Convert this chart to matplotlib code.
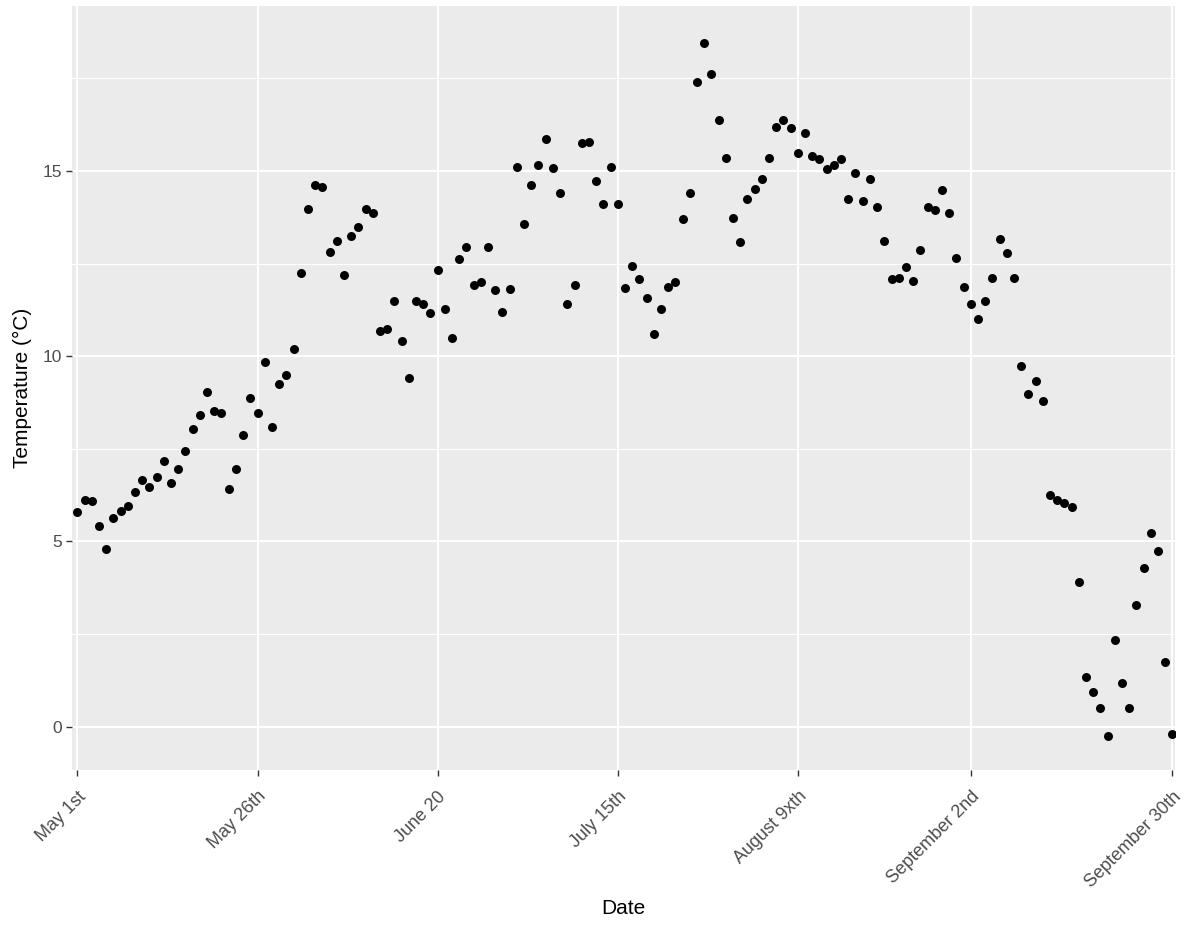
import numpy as np
import matplotlib
matplotlib.use('Agg')
import matplotlib.pyplot as plt
from matplotlib.ticker import MultipleLocator

# daily temperature, May 1st .. September 30th
temps = [
    5.79, 6.12, 6.08, 5.41, 4.79, 5.62, 5.83, 5.96, 6.33, 6.66,
    6.47, 6.75, 7.17, 6.57, 6.96, 7.45, 8.03, 8.41, 9.03, 8.53,
    8.46, 6.41, 6.96, 7.87, 8.87, 8.46, 9.83, 8.10, 9.24, 9.49,
    10.20, 12.24, 13.98, 14.61, 14.57, 12.82, 13.11, 12.19, 13.24, 13.49,
    13.98, 13.87, 10.69, 10.74, 11.49, 10.41, 9.41, 11.49, 11.40, 11.16,
    12.33, 11.28, 10.49, 12.61, 12.95, 11.91, 11.99, 12.95, 11.78, 11.19,
    11.82, 15.11, 13.57, 14.61, 15.15, 15.85, 15.07, 14.41, 11.41, 11.91,
    15.74, 15.77, 14.74, 14.11, 15.11, 14.11, 11.83, 12.44, 12.08, 11.57,
    10.61, 11.28, 11.87, 11.99, 13.70, 14.41, 17.40, 18.44, 17.61, 16.36,
    15.36, 13.73, 13.07, 14.24, 14.52, 14.77, 15.36, 16.19, 16.36, 16.15,
    15.48, 16.02, 15.40, 15.31, 15.06, 15.15, 15.31, 14.24, 14.95, 14.19,
    14.77, 14.03, 13.11, 12.07, 12.11, 12.40, 12.02, 12.86, 14.03, 13.95,
    14.49, 13.86, 12.65, 11.86, 11.40, 10.99, 11.49, 12.11, 13.16, 12.78,
    12.11, 9.74, 8.99, 9.32, 8.79, 6.25, 6.12, 6.04, 5.92, 3.91,
    1.34, 0.93, 0.50, -0.24, 2.33, 1.18, 0.50, 3.29, 4.29, 5.24,
    4.75, 1.75, -0.21,
]
days = np.arange(len(temps))

tick_days = [0, 25, 50, 75, 100, 124, 152]
tick_labels = ['May 1st', 'May 26th', 'June 20', 'July 15th', 'August 9xth',
               'September 2nd', 'September 30th']

plt.rcParams['font.family'] = ['Liberation Sans', 'DejaVu Sans']

fig = plt.figure(figsize=(11.88, 9.26), dpi=100)
ax = fig.add_axes([72 / 1188, 1 - 770 / 926, 1103 / 1188, 764 / 926])
ax.set_facecolor('#EBEBEB')
for s in ax.spines.values():
    s.set_visible(False)

ax.scatter(days, temps, s=42, color='black', linewidths=0, zorder=3, clip_on=True)

ax.set_xlim(-0.75, 152.35)
ax.set_ylim(-1.17, 19.45)
ax.set_xticks(tick_days)
ax.set_xticklabels(tick_labels, rotation=45, ha='right', rotation_mode='anchor')
ax.yaxis.set_major_locator(MultipleLocator(5))
ax.yaxis.set_minor_locator(MultipleLocator(2.5))

ax.grid(which='major', color='white', linewidth=1.5)
ax.grid(which='minor', axis='y', color='white', linewidth=0.75)
ax.set_axisbelow(True)
ax.tick_params(which='major', length=4, width=1, color='#333333',
               labelcolor='#4D4D4D', labelsize=12.5, pad=3)
ax.tick_params(axis='x', which='major', labelsize=13, pad=9)
ax.tick_params(axis='y', which='minor', length=0)

ax.set_xlabel('Date', fontsize=15, color='black', labelpad=6)
ax.set_ylabel('Temperature (°C)', fontsize=15, color='black', labelpad=8)

plt.savefig('out.png', dpi=100)
